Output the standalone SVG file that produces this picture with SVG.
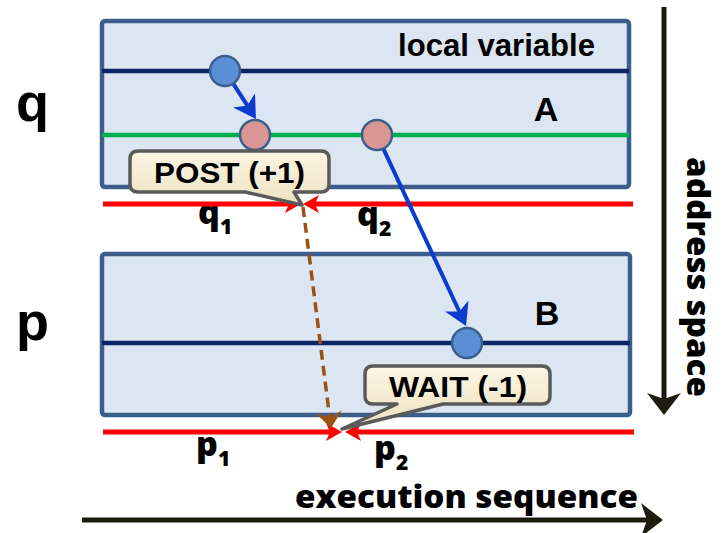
<svg xmlns="http://www.w3.org/2000/svg" width="726" height="533" viewBox="0 0 726 533">
  <style>
    .region { fill: #DCE6F2; stroke: #3B5E8C; stroke-width: 4.5; }
    .navy { stroke: #0A2466; stroke-width: 4.5; }
    .green { stroke: #00B050; stroke-width: 4.5; }
    .var-blue { fill: #5A8FD6; stroke: #3B5E8C; stroke-width: 2.5; }
    .var-pink { fill: #D99694; stroke: #3B5E8C; stroke-width: 2.5; }
    .callout { fill: url(#calloutFill); stroke: #5A5A5A; stroke-width: 3.5; stroke-linejoin: round; }
    .bold { font-family: "Liberation Sans", Arial, sans-serif; font-weight: bold; fill: #000; }
    .soft { font-family: "Open Sans", "Liberation Sans", sans-serif; font-weight: 800; fill: #000; }
    .move { fill: none; stroke: #0B3CD0; stroke-width: 4; marker-end: url(#headBlue); }
    .sync { fill: none; stroke: #9C5213; stroke-width: 3.5; stroke-dasharray: 10 6; marker-end: url(#headBrown); }
    .bound { fill: none; stroke: #FF0000; stroke-width: 5; marker-end: url(#headRed); }
    .axis { fill: none; stroke: #1D1B10; stroke-width: 5; marker-end: url(#headAxis); }
  </style>
  <defs>
    <linearGradient id="calloutFill" x1="0" y1="0" x2="0" y2="1">
      <stop offset="0" stop-color="#FDF5E4"/>
      <stop offset="1" stop-color="#ECE1C0"/>
    </linearGradient>
    <marker id="headBlue" viewBox="0 0 22 26" refX="11" refY="13" markerWidth="22" markerHeight="26" markerUnits="userSpaceOnUse" orient="auto">
      <path d="M0,0 L22,13 L0,26 L6,13 Z" fill="#0B3CD0"/>
    </marker>
    <marker id="headBrown" viewBox="0 0 16 26" refX="8" refY="13" markerWidth="16" markerHeight="26" markerUnits="userSpaceOnUse" orient="auto">
      <path d="M0,0 L16,13 L0,26 L5,13 Z" fill="#9C5213"/>
    </marker>
    <marker id="headRed" viewBox="0 0 16 18" refX="7" refY="9" markerWidth="16" markerHeight="18" markerUnits="userSpaceOnUse" orient="auto">
      <path d="M0,0 L16,9 L0,18 L4,9 Z" fill="#FF0000"/>
    </marker>
    <marker id="headAxis" viewBox="0 0 22 34" refX="10" refY="17" markerWidth="22" markerHeight="34" markerUnits="userSpaceOnUse" orient="auto">
      <path d="M0,0 L22,17 L0,34 L6,17 Z" fill="#1D1B10"/>
    </marker>
  </defs>

  <!-- address space q -->
  <g id="region-q">
    <rect class="region" x="102" y="21" width="527" height="166" rx="3"/>
    <line class="navy" x1="102" y1="71" x2="629" y2="71"/>
    <line class="green" x1="102" y1="135" x2="629" y2="135"/>
    <text class="bold" x="398" y="56" font-size="31" textLength="197" lengthAdjust="spacingAndGlyphs">local variable</text>
    <text class="bold" x="546" y="121" font-size="34" text-anchor="middle">A</text>
  </g>

  <!-- address space p -->
  <g id="region-p">
    <rect class="region" x="102" y="254" width="528" height="161" rx="3"/>
    <line class="navy" x1="102" y1="343" x2="630" y2="343"/>
    <text class="bold" x="547" y="325" font-size="34" text-anchor="middle">B</text>
  </g>

  <!-- space names -->
  <g id="label-q"><text class="bold" x="16" y="121" font-size="54">q</text></g>
  <g id="label-p"><text class="bold" x="16" y="340" font-size="54">p</text></g>

  <!-- boundaries and their labels -->
  <g id="label-q1"><text class="soft" x="198" y="224" font-size="34">q<tspan font-size="21" dy="10">1</tspan></text></g>
  <g id="label-q2"><text class="soft" x="357" y="226" font-size="34">q<tspan font-size="21" dy="10">2</tspan></text></g>
  <g id="label-p1"><text class="soft" x="196" y="456" font-size="34">p<tspan font-size="21" dy="10">1</tspan></text></g>
  <g id="label-p2"><text class="soft" x="374" y="460" font-size="34">p<tspan font-size="21" dy="10">2</tspan></text></g>

  <!-- connectors -->
  <g id="connectors">
    <line class="bound" x1="103" y1="204" x2="292" y2="204"/>
    <line class="bound" x1="633" y1="204" x2="312" y2="204"/>
    <line class="bound" x1="103" y1="432" x2="333" y2="432"/>
    <line class="bound" x1="634" y1="432" x2="354" y2="432"/>
    <line class="move" x1="233.2" y1="83.6" x2="250" y2="109.7"/>
    <line class="move" x1="383.3" y1="148.6" x2="461.4" y2="316"/>
    <line class="sync" x1="303" y1="207" x2="330" y2="420"/>
    <line class="axis" x1="664" y1="7" x2="664" y2="403"/>
    <line class="axis" x1="82" y1="520" x2="651" y2="520"/>
  </g>

  <!-- variables -->
  <g id="var-local"><circle class="var-blue" cx="225" cy="71" r="15"/></g>
  <g id="var-a1"><circle class="var-pink" cx="255" cy="135" r="15"/></g>
  <g id="var-a2"><circle class="var-pink" cx="377" cy="135" r="15"/></g>
  <g id="var-b"><circle class="var-blue" cx="467" cy="343" r="15"/></g>

  <!-- callouts -->
  <g id="post-callout">
    <path class="callout" d="M138,151 H321 Q329,151 329,159 V184 Q329,192 321,192 H294 L302,205 L245,192 H138 Q130,192 130,184 V159 Q130,151 138,151 Z"/>
    <text class="bold" x="154" y="183" font-size="30" textLength="151" lengthAdjust="spacingAndGlyphs">POST (+1)</text>
  </g>
  <g id="wait-callout">
    <path class="callout" d="M373,366 H542 Q550,366 550,374 V396 Q550,404 542,404 H443 L342,429 L397,404 H373 Q365,404 365,396 V374 Q365,366 373,366 Z"/>
    <text class="bold" x="389" y="397" font-size="30" textLength="138" lengthAdjust="spacingAndGlyphs">WAIT (-1)</text>
  </g>

  <!-- axis captions -->
  <g id="axis-execution"><text class="soft" x="295" y="508" font-size="31" textLength="343" lengthAdjust="spacingAndGlyphs">execution sequence</text></g>
  <g id="axis-address"><text class="soft" transform="translate(687,157) rotate(90)" x="0" y="0" font-size="31" textLength="240" lengthAdjust="spacingAndGlyphs">address space</text></g>
</svg>
